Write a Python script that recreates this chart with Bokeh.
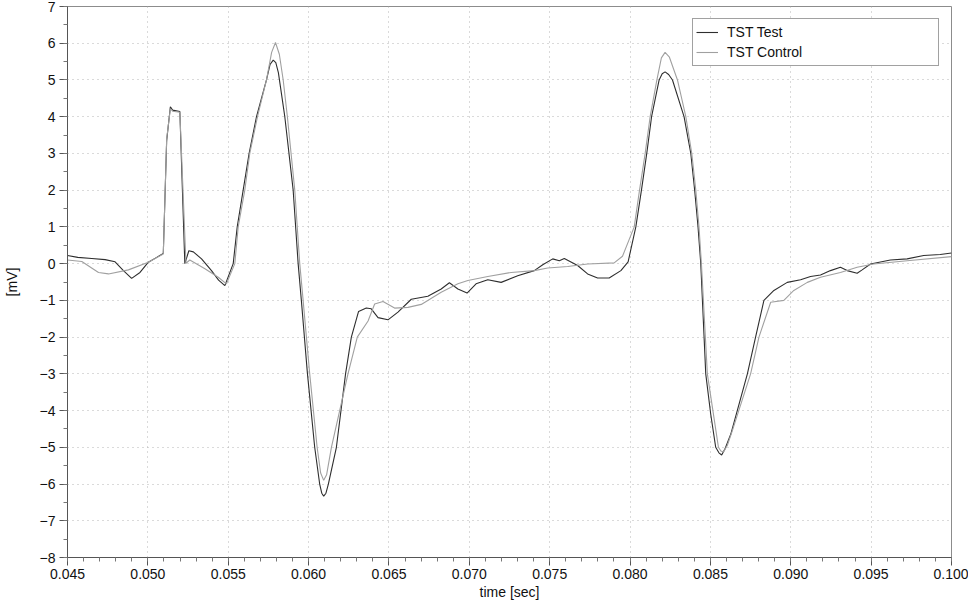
from bokeh.plotting import figure
from bokeh.models import SingleIntervalTicker, CustomJSTickFormatter, Range1d, Legend, LegendItem
from bokeh.embed import file_html
from bokeh.resources import INLINE

# TST Test series (time [sec], [mV])
time_test = [0.04500, 0.04564, 0.04651, 0.04734, 0.04796, 0.04848, 0.04899, 0.04951, 0.05003, 0.05055,
             0.05096, 0.05117, 0.05140, 0.05154, 0.05199, 0.05230, 0.05255, 0.05283, 0.05334, 0.05396,
             0.05440, 0.05479, 0.05531, 0.05556, 0.05593, 0.05630, 0.05676, 0.05738, 0.05760, 0.05780,
             0.05796, 0.05812, 0.05852, 0.05904, 0.05935, 0.05955, 0.05993, 0.06038, 0.06069, 0.06082,
             0.06094, 0.06108, 0.06123, 0.06173, 0.06230, 0.06266, 0.06311, 0.06359, 0.06390, 0.06432,
             0.06494, 0.06556, 0.06639, 0.06742, 0.06825, 0.06876, 0.06929, 0.06986, 0.07042, 0.07115,
             0.07198, 0.07301, 0.07404, 0.07457, 0.07519, 0.07560, 0.07591, 0.07674, 0.07736, 0.07798,
             0.07870, 0.07943, 0.07988, 0.08036, 0.08071, 0.08104, 0.08134, 0.08181, 0.08200, 0.08218,
             0.08240, 0.08264, 0.08336, 0.08378, 0.08402, 0.08423, 0.08440, 0.08471, 0.08502, 0.08533,
             0.08553, 0.08570, 0.08590, 0.08627, 0.08730, 0.08781, 0.08833, 0.08895, 0.08978, 0.09061,
             0.09123, 0.09185, 0.09247, 0.09309, 0.09351, 0.09413, 0.09444, 0.09496, 0.09620, 0.09724,
             0.09827, 0.09930, 0.10000]
mv_test = [0.22, 0.17, 0.14, 0.11, 0.05, -0.19, -0.40, -0.24, 0.04, 0.17,
           0.28, 3.35, 4.27, 4.18, 4.14, 0.00, 0.35, 0.32, 0.13, -0.19,
           -0.45, -0.60, 0.00, 1.00, 2.00, 3.00, 4.00, 5.00, 5.42, 5.54,
           5.47, 5.20, 4.00, 2.00, 0.00, -1.00, -3.00, -5.00, -6.00, -6.25,
           -6.33, -6.25, -6.00, -5.00, -3.00, -2.00, -1.30, -1.21, -1.23, -1.47,
           -1.53, -1.32, -0.97, -0.89, -0.69, -0.52, -0.69, -0.80, -0.55, -0.44,
           -0.51, -0.33, -0.19, -0.03, 0.13, 0.08, 0.14, -0.05, -0.28, -0.39,
           -0.39, -0.19, 0.05, 1.00, 2.00, 3.00, 4.00, 5.00, 5.17, 5.22,
           5.15, 5.00, 4.00, 3.00, 2.00, 1.00, 0.00, -3.00, -4.10, -5.00,
           -5.15, -5.21, -5.05, -4.64, -3.00, -2.00, -1.00, -0.73, -0.51, -0.44,
           -0.35, -0.31, -0.19, -0.10, -0.19, -0.26, -0.17, -0.01, 0.10, 0.13,
           0.22, 0.25, 0.29]

# TST Control series
time_control = [0.04500, 0.04589, 0.04693, 0.04755, 0.04879, 0.05003, 0.05096, 0.05117, 0.05140, 0.05154,
                 0.05199, 0.05237, 0.05261, 0.05355, 0.05438, 0.05489, 0.05541, 0.05562, 0.05603, 0.05634,
                 0.05682, 0.05738, 0.05770, 0.05794, 0.05818, 0.05842, 0.05868, 0.05914, 0.05945, 0.05966,
                 0.06007, 0.06053, 0.06075, 0.06094, 0.06112, 0.06142, 0.06245, 0.06303, 0.06370, 0.06411,
                 0.06463, 0.06535, 0.06618, 0.06701, 0.06825, 0.06929, 0.06991, 0.07115, 0.07260, 0.07404,
                 0.07488, 0.07612, 0.07736, 0.07901, 0.07953, 0.08026, 0.08059, 0.08094, 0.08125, 0.08167,
                 0.08195, 0.08218, 0.08245, 0.08295, 0.08347, 0.08384, 0.08409, 0.08429, 0.08444, 0.08481,
                 0.08550, 0.08565, 0.08581, 0.08605, 0.08637, 0.08750, 0.08802, 0.08875, 0.08957, 0.09019,
                 0.09103, 0.09185, 0.09309, 0.09413, 0.09516, 0.09724, 0.10000]
mv_control = [0.10, 0.06, -0.24, -0.28, -0.17, 0.04, 0.26, 3.40, 4.22, 4.15,
              4.12, 0.01, 0.10, -0.14, -0.37, -0.55, 0.00, 1.00, 2.00, 3.00,
              4.00, 5.00, 5.75, 6.02, 5.70, 5.00, 4.00, 2.00, 0.00, -1.00,
              -3.00, -5.00, -5.70, -5.90, -5.75, -5.00, -3.00, -2.00, -1.56, -1.10,
              -1.03, -1.21, -1.19, -1.11, -0.78, -0.55, -0.46, -0.35, -0.24, -0.19,
              -0.12, -0.08, -0.01, 0.02, 0.20, 1.00, 2.00, 3.00, 4.00, 5.00,
              5.60, 5.75, 5.62, 5.00, 4.00, 3.00, 2.00, 1.00, 0.00, -3.00,
              -5.00, -5.10, -5.13, -4.95, -4.54, -3.00, -2.00, -1.05, -1.00, -0.73,
              -0.51, -0.37, -0.24, -0.10, -0.01, 0.08, 0.19]

x_start, x_end = 0.045, 0.100
y_start, y_end = -8, 7

FONT = "Liberation Sans"

p = figure(width=968, height=604, output_backend="svg", toolbar_location=None,
           x_range=Range1d(x_start, x_end), y_range=Range1d(y_start, y_end),
           min_border_left=66, min_border_right=17, min_border_top=6, min_border_bottom=47)

p.outline_line_color = "#8c8c8c"
p.outline_line_width = 1
p.background_fill_color = "white"
p.border_fill_color = "white"

r_test = p.line(time_test, mv_test, line_color="#2e2e2e", line_width=1.1)
r_ctrl = p.line(time_control, mv_control, line_color="#a0a0a0", line_width=1.1)

p.xaxis.ticker = SingleIntervalTicker(interval=0.005, num_minor_ticks=5)
p.yaxis.ticker = SingleIntervalTicker(interval=1, num_minor_ticks=2)
p.xaxis.formatter = CustomJSTickFormatter(code="return tick.toFixed(3);")
p.yaxis.formatter = CustomJSTickFormatter(
    code="var v = Math.round(tick); return v < 0 ? '\u2212' + Math.abs(v) : String(v);")

for ax in (p.xaxis[0], p.yaxis[0]):
    ax.axis_line_color = "#555555"
    ax.major_tick_line_color = "#555555"
    ax.minor_tick_line_color = "#777777"
    ax.major_tick_in = 0
    ax.major_tick_out = 8
    ax.minor_tick_in = 0
    ax.minor_tick_out = 4
    ax.major_label_text_font = FONT
    ax.major_label_text_font_size = "14px"
    ax.major_label_text_color = "#111111"
    ax.axis_label_text_font = FONT
    ax.axis_label_text_font_size = "14px"
    ax.axis_label_text_font_style = "normal"
    ax.axis_label_text_color = "#111111"

p.xaxis.axis_label = "time [sec]"
p.yaxis.axis_label = "[mV]"
p.xaxis.major_label_standoff = 3
p.yaxis.major_label_standoff = 4
p.xaxis.axis_label_standoff = 2
p.yaxis.axis_label_standoff = 17

for g in (p.xgrid[0], p.ygrid[0]):
    g.grid_line_color = "#b5b5b5"
    g.grid_line_dash = "1 4"
    g.grid_line_width = 1

legend = Legend(items=[LegendItem(label="TST Test", renderers=[r_test]),
                       LegendItem(label="TST Control", renderers=[r_ctrl])],
                location="top_right")
legend.margin = 12
legend.padding = 3
legend.spacing = 0
legend.label_height = 20
legend.glyph_height = 20
legend.glyph_width = 22
legend.label_standoff = 9
legend.label_width = 208
legend.label_text_font = FONT
legend.label_text_font_size = "14px"
legend.label_text_color = "#111111"
legend.border_line_color = "#444444"
legend.border_line_width = 1
legend.background_fill_alpha = 1.0
p.add_layout(legend, "center")

open("out.html", "w").write(file_html(p, INLINE))
